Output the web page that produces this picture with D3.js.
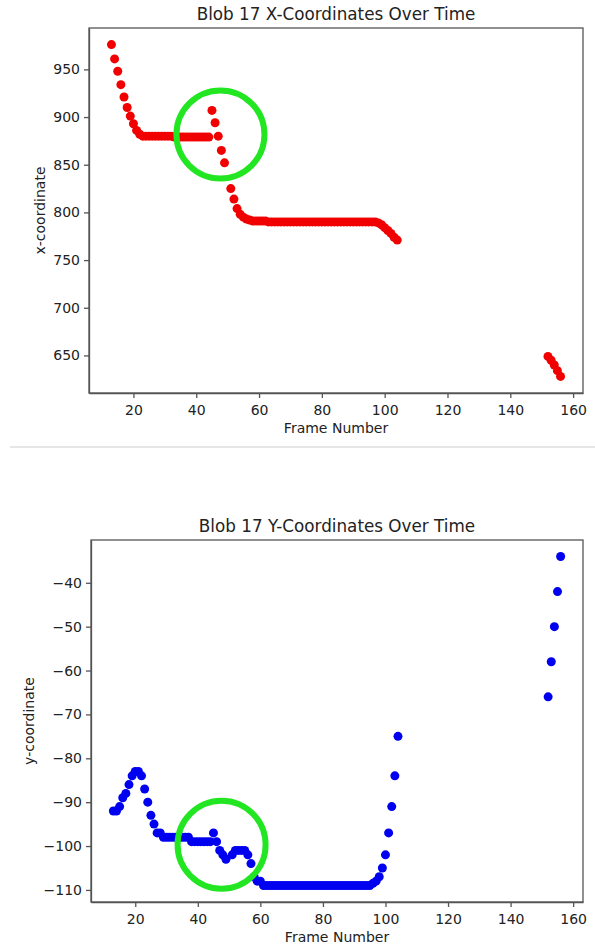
<!DOCTYPE html>
<html>
<head>
<meta charset="utf-8">
<script src="https://cdn.jsdelivr.net/npm/d3@7"></script>
<style>
  body { margin: 0; background: #fff; }
  text { font-family: "DejaVu Sans", sans-serif; fill: #222; }
  .axis path, .axis line { stroke: #555; stroke-width: 1.3; }
  .axis text { font-size: 14px; fill: #222; }
</style>
</head>
<body>
<svg id="fig" width="595" height="947"></svg>
<script>
'use strict';

// frame numbers (frame 50 and 105-151 are missing from the track)
var frames = [
  13, 14, 15, 16, 17, 18, 19, 20, 21, 22, 23, 24, 25, 26, 27, 28, 29, 30, 31, 32,
  33, 34, 35, 36, 37, 38, 39, 40, 41, 42, 43, 44, 45, 46, 47, 48, 49,
  51, 52, 53, 54, 55, 56, 57, 58, 59, 60, 61, 62, 63, 64, 65, 66, 67, 68, 69, 70,
  71, 72, 73, 74, 75, 76, 77, 78, 79, 80, 81, 82, 83, 84, 85, 86, 87, 88, 89, 90,
  91, 92, 93, 94, 95, 96, 97, 98, 99, 100, 101, 102, 103, 104,
  152, 153, 154, 155, 156
];

var xCoords = [
  976, 961, 948, 934, 921, 910, 901, 893, 886, 882, 880, 880, 880, 880, 880, 880, 880, 880, 880, 880,
  879, 879, 879, 879, 879, 879, 879, 879, 879, 879, 879, 879, 907, 894, 880, 865, 852,
  825, 814, 804, 798, 795, 793, 792, 791, 791, 791, 791, 791, 790, 790, 790, 790, 790, 790, 790, 790,
  790, 790, 790, 790, 790, 790, 790, 790, 790, 790, 790, 790, 790, 790, 790, 790, 790, 790, 790, 790,
  790, 790, 790, 790, 790, 790, 790, 789, 787, 784, 781, 778, 774, 771,
  649, 645, 640, 634, 628
];

var yCoords = [
  -92, -92, -91, -89, -88, -86, -84, -83, -83, -84, -87, -90, -93, -95, -97, -97, -98, -98, -98, -98,
  -98, -98, -98, -98, -98, -99, -99, -99, -99, -99, -99, -99, -97, -99, -101, -102, -103,
  -102, -101, -101, -101, -101, -102, -104, -107, -108, -108, -109, -109, -109, -109, -109, -109, -109, -109, -109, -109,
  -109, -109, -109, -109, -109, -109, -109, -109, -109, -109, -109, -109, -109, -109, -109, -109, -109, -109, -109, -109,
  -109, -109, -109, -109, -109, -108.5, -108, -107, -105, -102, -97, -91, -84, -75,
  -66, -58, -50, -42, -34
];

// highlighted region (data coords) on each chart
var markX = [47.7, 881.7];
var markY = [47.6, -99.7];

var xTicks = [20, 40, 60, 80, 100, 120, 140, 160];
var xTickLabelsTop = [650, 700, 750, 800, 850, 900, 950];
var yTickLabelsBottom = [-110, -100, -90, -80, -70, -60, -50, -40];

var svg = d3.select('#fig');

// matplotlib style 5% margins round the data
function padded(vals) {
  var ext = d3.extent(vals);
  var pad = (ext[1] - ext[0]) * 0.05;
  return [ext[0] - pad, ext[1] + pad];
}

function drawPanel(opt) {
  var x = d3.scaleLinear().domain(padded(frames)).range([opt.left, opt.right]);
  var y = d3.scaleLinear().domain(padded(opt.values)).range([opt.bottom, opt.top]);

  var g = svg.append('g');

  g.append('g')
    .attr('class', 'axis')
    .attr('transform', 'translate(0,' + opt.bottom + ')')
    .call(d3.axisBottom(x).tickValues(xTicks).tickSize(5).tickPadding(7).tickSizeOuter(0));

  g.append('g')
    .attr('class', 'axis')
    .attr('transform', 'translate(' + opt.left + ',0)')
    .call(d3.axisLeft(y).tickValues(opt.ticks).tickSize(5).tickPadding(4).tickSizeOuter(0));

  // full box
  g.append('rect')
    .attr('x', opt.left)
    .attr('y', opt.top)
    .attr('width', opt.right - opt.left)
    .attr('height', opt.bottom - opt.top)
    .attr('fill', 'none')
    .attr('stroke', '#555')
    .attr('stroke-width', 1.3);

  g.append('g').selectAll('circle')
    .data(frames)
    .enter().append('circle')
    .attr('cx', function(d) { return x(d); })
    .attr('cy', function(d, i) { return y(opt.values[i]); })
    .attr('r', 4.5)
    .attr('fill', opt.color);

  g.append('circle')
    .attr('cx', x(opt.mark[0]))
    .attr('cy', y(opt.mark[1]))
    .attr('r', 44)
    .attr('fill', 'none')
    .attr('stroke', '#22e622')
    .attr('stroke-width', 6);

  g.append('text')
    .attr('x', (opt.left + opt.right) / 2)
    .attr('y', opt.top - 8)
    .attr('text-anchor', 'middle')
    .style('font-size', '16.8px')
    .text(opt.title);

  g.append('text')
    .attr('x', (opt.left + opt.right) / 2)
    .attr('y', opt.bottom + 40)
    .attr('text-anchor', 'middle')
    .style('font-size', '14px')
    .text('Frame Number');

  g.append('text')
    .attr('transform', 'translate(' + opt.ylabelX + ',' + ((opt.top + opt.bottom) / 2) + ') rotate(-90)')
    .attr('text-anchor', 'middle')
    .attr('dy', '0.35em')
    .style('font-size', '14px')
    .text(opt.ylabel);
}

drawPanel({
  left: 89, right: 583, top: 28, bottom: 393,
  values: xCoords, ticks: xTickLabelsTop, color: '#f00000', mark: markX,
  title: 'Blob 17 X-Coordinates Over Time', ylabel: 'x-coordinate', ylabelX: 40
});

// thin divider between the two screenshots
svg.append('line')
  .attr('x1', 10).attr('x2', 595)
  .attr('y1', 447).attr('y2', 447)
  .attr('stroke', '#e6e6e6')
  .attr('stroke-width', 2);

drawPanel({
  left: 91, right: 583, top: 540, bottom: 902,
  values: yCoords, ticks: yTickLabelsBottom, color: '#0000f0', mark: markY,
  title: 'Blob 17 Y-Coordinates Over Time', ylabel: 'y-coordinate', ylabelX: 29
});
</script>
</body>
</html>
